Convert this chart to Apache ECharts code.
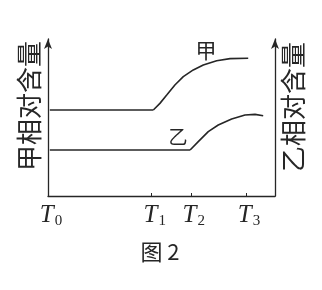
<!DOCTYPE html>
<html>
<head>
<meta charset="utf-8">
<script src="https://cdn.jsdelivr.net/npm/echarts@6/dist/echarts.min.js"></script>
<style>html,body{margin:0;padding:0;background:#fff;}#c{width:322px;height:290px;}</style>
</head>
<body>
<div id="c"></div>
<script>
// Time tick positions (x: 0..100), labels
const tickValues = [0, 45.7, 62.9, 87.2];
const tickSubs = ['0', '1', '2', '3'];
// 甲 relative content: flat part then rising curve
const jiaFlat = [[0.8, 54.8], [46.4, 54.8]];
const jiaCurve = [[46.4, 54.8], [49.3, 59.0], [52.3, 64.3], [55.9, 70.7], [59.6, 76.0], [64.0, 80.3], [68.4, 83.4], [74.3, 86.2], [80.2, 87.5], [88.2, 87.7]];
// 乙 relative content
const yiFlat = [[0.8, 29.3], [62.6, 29.3]];
const yiCurve = [[62.6, 29.3], [66.2, 34.6], [70.6, 41.0], [75.0, 45.2], [80.9, 49.0], [86.8, 51.6], [91.2, 52.0], [94.8, 51.1]];
const leftName = '甲相对含量';
const rightName = '乙相对含量';
const figTitle = '图 2';

const ink = '#262626';
const chart = echarts.init(document.getElementById('c'), null, {renderer: 'canvas'});
const lineStyle = {color: ink, width: 1.6};
function mk(data) {
  return {type: 'line', data: data, smooth: false, showSymbol: false, symbol: 'none',
    lineStyle: lineStyle, animation: false, silent: true};
}
const yAxisBase = {
  type: 'value', min: 0, max: 100,
  axisLine: {show: true, lineStyle: {color: ink, width: 1.3}, symbol: ['none', 'arrow'], symbolSize: [6, 10]},
  axisTick: {show: false}, axisLabel: {show: false}, splitLine: {show: false}
};
chart.setOption({
  backgroundColor: '#fff',
  animation: false,
  grid: {left: 48, right: 47, top: 39, bottom: 94},
  xAxis: {
    type: 'value', min: 0, max: 100,
    axisLine: {show: true, lineStyle: {color: ink, width: 1.3}},
    axisTick: {show: true, inside: true, length: 3, customValues: tickValues.slice(1), lineStyle: {color: ink}},
    splitLine: {show: false},
    axisLabel: {
      show: true, customValues: tickValues, margin: 6,
      formatter: function (v) {
        let i = 0, b = 1e9;
        tickValues.forEach((t, k) => { if (Math.abs(t - v) < b) { b = Math.abs(t - v); i = k; } });
        return '{t|T}{s|' + tickSubs[i] + '}';
      },
      rich: {
        t: {fontFamily: 'Liberation Serif', fontStyle: 'italic', fontSize: 25, color: ink, padding: [0, 0, 0, 6]},
        s: {fontFamily: 'Liberation Serif', fontSize: 15, color: ink, padding: [12, 0, 0, 1]}
      }
    }
  },
  yAxis: [Object.assign({position: 'left'}, yAxisBase), Object.assign({position: 'right'}, yAxisBase)],
  series: [mk(jiaFlat), mk(jiaCurve), mk(yiFlat), mk(yiCurve)],
  graphic: [
    {type: 'text', x: 29, y: 106, rotation: Math.PI / 2,
      style: {text: leftName, fontFamily: 'Noto Sans CJK SC', fontSize: 26, fill: ink, align: 'center', verticalAlign: 'middle'}},
    {type: 'text', x: 293, y: 107, rotation: Math.PI / 2,
      style: {text: rightName, fontFamily: 'Noto Sans CJK SC', fontSize: 26, fill: ink, align: 'center', verticalAlign: 'middle'}},
    {type: 'text', x: 206, y: 50,
      style: {text: '甲', fontFamily: 'Noto Sans CJK SC', fontSize: 21, fill: ink, align: 'center', verticalAlign: 'middle'}},
    {type: 'text', x: 178, y: 137,
      style: {text: '乙', fontFamily: 'Noto Sans CJK SC', fontSize: 19, fill: ink, align: 'center', verticalAlign: 'middle'}},
    {type: 'text', x: 160, y: 252,
      style: {text: figTitle, fontFamily: 'Noto Sans CJK SC', fontSize: 22, fill: ink, align: 'center', verticalAlign: 'middle'}}
  ]
});
</script>
</body>
</html>
